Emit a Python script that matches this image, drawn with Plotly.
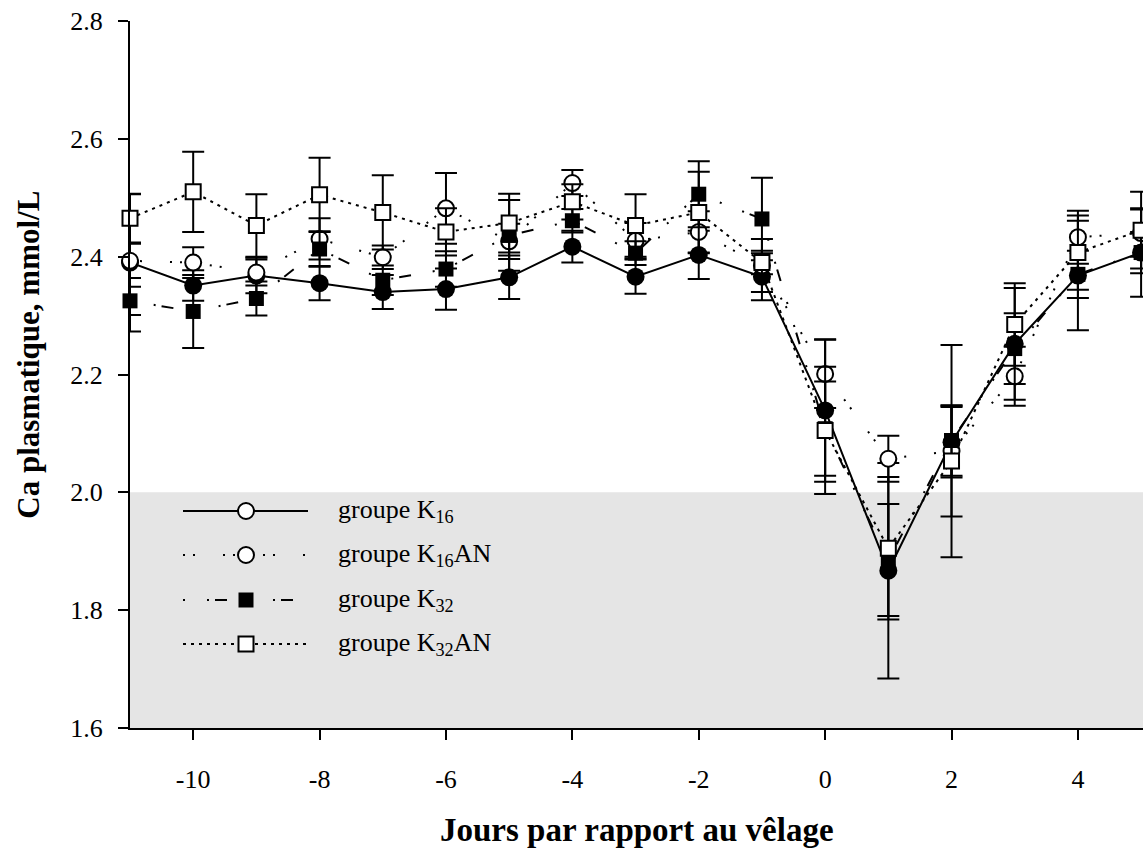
import plotly.graph_objects as go

# ---------------- data ----------------
days = [-11, -10, -9, -8, -7, -6, -5, -4, -3, -2, -1, 0, 1, 2, 3, 4, 5]

k16 = [2.390, 2.351, 2.368, 2.355, 2.340, 2.345, 2.365, 2.417, 2.366, 2.403, 2.366,
       2.139, 1.867, 2.085, 2.252, 2.368, 2.407]
k16_se = [0.117, 0.026, 0.030, 0.029, 0.029, 0.035, 0.037, 0.027, 0.029, 0.041, 0.040,
          0.121, 0.183, 0.060, 0.095, 0.093, 0.075]

k16an = [2.393, 2.390, 2.373, 2.430, 2.399, 2.482, 2.426, 2.525, 2.427, 2.442, 2.385,
         2.201, 2.057, 2.070, 2.197, 2.433, 2.440]
k16an_se = [0.029, 0.026, 0.022, 0.035, 0.020, 0.060, 0.030, 0.022, 0.030, 0.035, 0.045,
            0.058, 0.039, 0.180, 0.050, 0.045, 0.040]

k32 = [2.325, 2.307, 2.329, 2.413, 2.360, 2.379, 2.436, 2.461, 2.406, 2.506, 2.464,
       2.108, 1.885, 2.088, 2.244, 2.370, 2.407]
k32_se = [0.024, 0.062, 0.029, 0.030, 0.025, 0.030, 0.060, 0.020, 0.020, 0.056, 0.070,
          0.080, 0.095, 0.060, 0.060, 0.040, 0.035]

k32an = [2.465, 2.510, 2.453, 2.505, 2.475, 2.442, 2.457, 2.493, 2.453, 2.475, 2.390,
         2.105, 1.905, 2.053, 2.285, 2.407, 2.445]
k32an_se = [0.041, 0.068, 0.053, 0.063, 0.063, 0.040, 0.050, 0.030, 0.053, 0.069, 0.020,
            0.108, 0.121, 0.094, 0.070, 0.063, 0.065]

x_ticks = [-10, -8, -6, -4, -2, 0, 2, 4]
y_ticks = [1.6, 1.8, 2.0, 2.2, 2.4, 2.6, 2.8]
legend_labels = ["groupe K<sub>16</sub>", "groupe K<sub>16</sub>AN",
                 "groupe K<sub>32</sub>", "groupe K<sub>32</sub>AN"]
x_title = "Jours par rapport au vêlage"
y_title = "Ca plasmatique, mmol/L"

# ---------------- styles ----------------
W, H = 1143, 852
ML, MR, MT, MB = 130, 0, 21, 124
FONT = "Liberation Serif"

DASH_K16AN = "2px,8px,2px,28px"
DASH_K32 = "2px,22px,2px,6px,12px,22px"
DASH_K32AN = "3px,5px"

styles = [
    dict(y=k16, se=k16_se, symbol="circle", size=18, fill="black", lw=0, dash="solid"),
    dict(y=k16an, se=k16an_se, symbol="circle", size=16, fill="white", lw=2, dash=DASH_K16AN),
    dict(y=k32, se=k32_se, symbol="square", size=15, fill="black", lw=0, dash=DASH_K32),
    dict(y=k32an, se=k32an_se, symbol="square", size=15, fill="white", lw=2, dash=DASH_K32AN),
]
legend_styles = [
    dict(symbol="circle", size=16, fill="white", lw=2, dash="solid"),
    dict(symbol="circle", size=16, fill="white", lw=2, dash=DASH_K16AN),
    dict(symbol="square", size=15, fill="black", lw=0, dash=DASH_K32),
    dict(symbol="square", size=15, fill="white", lw=2, dash=DASH_K32AN),
]

fig = go.Figure()

# hypocalcaemia band
fig.add_shape(type="rect", xref="paper", yref="y", x0=0, x1=1, y0=1.6, y1=2.0,
              fillcolor="#e5e5e5", line_width=0, layer="below")

for s in styles:
    fig.add_trace(go.Scatter(
        x=days, y=s["y"], mode="lines+markers",
        line=dict(color="black", width=2, dash=s["dash"]),
        marker=dict(symbol=s["symbol"], size=s["size"], color=s["fill"],
                    line=dict(color="black", width=s["lw"])),
        error_y=dict(type="data", array=s["se"], visible=True, color="black",
                     thickness=2, width=11),
        cliponaxis=False, showlegend=False, hoverinfo="x+y"))

# ---------------- manual legend (pixel overlay axes) ----------------
leg_x0, leg_x1, leg_xm, leg_text_x = 183, 308, 246, 336
leg_rows = [511, 555, 600, 644]
for ls, yrow, lab in zip(legend_styles, leg_rows, legend_labels):
    fig.add_trace(go.Scatter(
        x=[leg_x0, leg_x1], y=[yrow, yrow], mode="lines",
        line=dict(color="black", width=2, dash=ls["dash"]),
        xaxis="x2", yaxis="y2", showlegend=False, hoverinfo="skip"))
    fig.add_trace(go.Scatter(
        x=[leg_xm], y=[yrow], mode="markers",
        marker=dict(symbol=ls["symbol"], size=ls["size"], color=ls["fill"],
                    line=dict(color="black", width=ls["lw"])),
        xaxis="x2", yaxis="y2", showlegend=False, hoverinfo="skip"))
    fig.add_annotation(x=leg_text_x, y=yrow, xref="x2", yref="y2", text=lab,
                       showarrow=False, xanchor="left", yanchor="middle",
                       font=dict(family=FONT, size=26, color="black"))

# axis titles
fig.add_annotation(x=0.5, y=0, xref="paper", yref="paper", text="<b>%s</b>" % x_title,
                   showarrow=False, xanchor="center", yanchor="middle", yshift=-102,
                   font=dict(family=FONT, size=33, color="black"))
fig.add_annotation(x=0, y=0.528, xref="paper", yref="paper", text="<b>%s</b>" % y_title,
                   showarrow=False, xanchor="center", yanchor="middle", xshift=-101,
                   textangle=-90, font=dict(family=FONT, size=31, color="black"))

fig.update_layout(
    width=W, height=H, margin=dict(l=ML, r=MR, t=MT, b=MB, autoexpand=False),
    paper_bgcolor="white", plot_bgcolor="white", showlegend=False,
    font=dict(family=FONT, color="black"),
    xaxis=dict(range=[-11, 5.03], tickvals=x_ticks, ticktext=[str(v) for v in x_ticks],
               ticks="outside", ticklen=10, tickwidth=2, tickcolor="black",
               showline=True, linewidth=2, linecolor="black", showgrid=False,
               zeroline=False, tickfont=dict(family=FONT, size=26, color="black"),
               ticklabelstandoff=17, automargin=False),
    yaxis=dict(range=[1.6, 2.8], tickvals=y_ticks, ticktext=["%.1f" % v for v in y_ticks],
               ticks="outside", ticklen=10, tickwidth=2, tickcolor="black",
               showline=True, linewidth=2, linecolor="black", showgrid=False,
               zeroline=False, tickfont=dict(family=FONT, size=26, color="black"),
               ticklabelstandoff=10, automargin=False),
    xaxis2=dict(overlaying="x", range=[ML, W], visible=False, anchor="y2", fixedrange=True),
    yaxis2=dict(overlaying="y", range=[H - MB, MT], visible=False, anchor="x2", fixedrange=True),
)

fig.write_html("out.html")
